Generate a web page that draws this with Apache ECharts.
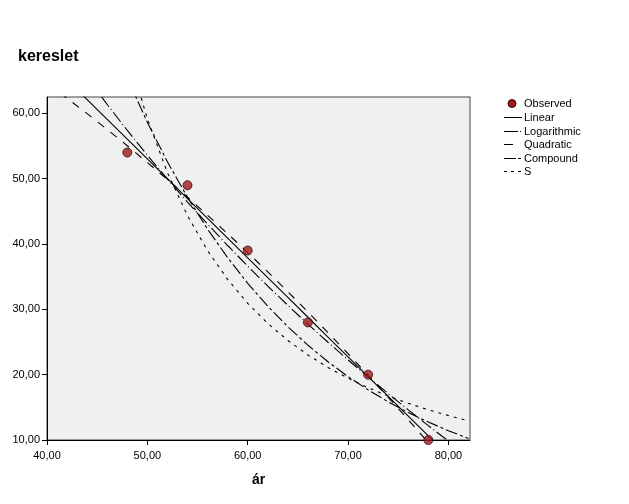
<!DOCTYPE html>
<html>
<head>
<meta charset="utf-8">
<script src="https://cdn.jsdelivr.net/npm/echarts@6/dist/echarts.min.js"></script>
<style>html,body{margin:0;padding:0;background:#fff;}#c{width:629px;height:504px;}</style>
</head>
<body>
<div id="c"></div>
<script>
var obsX = [48, 54, 60, 66, 72, 78];
var obsY = [54, 49, 39, 28, 20, 10];
var fitX = [40, 42, 44, 46, 48, 50, 52, 54, 56, 58, 60, 62, 64, 66, 68, 70, 72, 74, 76, 78, 80, 82];
var linearY = [68.16, 65.13, 62.10, 59.08, 56.05, 53.02, 49.99, 46.96, 43.93, 40.90, 37.88, 34.85, 31.82, 28.79, 25.76, 22.73, 19.70, 16.68, 13.65, 10.62, 7.59, 4.56];
var logY = [74.36, 69.82, 65.49, 61.35, 57.39, 53.59, 49.94, 46.42, 43.04, 39.77, 36.61, 33.56, 30.61, 27.74, 24.96, 22.26, 19.64, 17.09, 14.61, 12.19, 9.83, 7.53];
var quadY = [64.59, 62.30, 59.95, 57.53, 55.04, 52.48, 49.86, 47.16, 44.41, 41.58, 38.69, 35.73, 32.70, 29.60, 26.44, 23.21, 19.91, 16.54, 13.11, 9.61, 6.04, 2.40];
var compY = [101.16, 90.71, 81.34, 72.93, 65.39, 58.64, 52.58, 47.15, 42.27, 37.91, 33.99, 30.48, 27.33, 24.51, 21.97, 19.70, 17.67, 15.84, 14.20, 12.74, 11.42, 10.24];
var sY = [156.6, 124.22, 100.62, 83.01, 69.59, 59.16, 50.93, 44.34, 38.98, 34.58, 30.92, 27.84, 25.24, 23.02, 21.11, 19.45, 18.00, 16.73, 15.61, 14.62, 13.74, 12.94];
var legendNames = ['Observed', 'Linear', 'Logarithmic', 'Quadratic', 'Compound', 'S'];

function pairs(xs, ys) { return xs.map(function (x, i) { return [x, ys[i]]; }); }
function fmt(v) { return (Math.abs(v - Math.round(v / 10) * 10) < 1e-6) ? v.toFixed(2).replace('.', ',') : ''; }

var FONT = 'Liberation Sans, Arial, sans-serif';
var dashes = {
  'Linear': 'solid',
  'Logarithmic': [12, 3, 1, 3],
  'Quadratic': [8, 8],
  'Compound': [12, 3, 3, 3],
  'S': [3, 5]
};
var legendDash = {
  'Linear': null,
  'Logarithmic': [14, 2, 1, 10],
  'Quadratic': [9, 20],
  'Compound': [12, 2, 3, 10],
  'S': [3, 4]
};
var curves = { 'Linear': linearY, 'Logarithmic': logY, 'Quadratic': quadY, 'Compound': compY, 'S': sY };

var series = [{
  name: 'Observed', type: 'scatter', data: pairs(obsX, obsY), symbol: 'circle', symbolSize: 9,
  itemStyle: { color: '#a3171c', borderColor: '#2a1010', borderWidth: 1 }, z: 5
}];
['Linear', 'Logarithmic', 'Quadratic', 'Compound', 'S'].forEach(function (n) {
  series.push({
    name: n, type: 'line', data: pairs(fitX, curves[n]), showSymbol: false, clip: true,
    lineStyle: { color: '#000', width: 1.1, type: dashes[n] }, smooth: false, z: 3
  });
});

var graphics = [];
var ly = [103.5, 117.5, 131.5, 144.5, 158.5, 171.5];
graphics.push({ type: 'circle', shape: { cx: 512, cy: ly[0], r: 4 }, style: { fill: '#a3171c', stroke: '#2a1010', lineWidth: 1 } });
['Linear', 'Logarithmic', 'Quadratic', 'Compound', 'S'].forEach(function (n, i) {
  graphics.push({ type: 'line', shape: { x1: 504, y1: ly[i + 1], x2: 522, y2: ly[i + 1] },
    style: { stroke: '#000', lineWidth: 1, lineDash: legendDash[n] } });
});
legendNames.forEach(function (n, i) {
  graphics.push({ type: 'text', left: 524, top: ly[i] - 5,
    style: { text: n, fill: '#000', font: '11px ' + FONT } });
});
graphics.push({ type: 'text', left: 18, top: 49, style: { text: 'kereslet', fill: '#000', font: 'bold 16px ' + FONT } });

var chart = echarts.init(document.getElementById('c'), null, { renderer: 'canvas' });
chart.setOption({
  animation: false,
  backgroundColor: '#fff',
  grid: { left: 47, top: 97, right: 159, bottom: 64, show: true, backgroundColor: '#f0f0f0', borderColor: '#444', borderWidth: 1 },
  xAxis: {
    type: 'value', min: 40, max: 82.15, interval: 10,
    name: 'ár', nameLocation: 'middle', nameGap: 33,
    nameTextStyle: { fontFamily: FONT, fontSize: 14, fontWeight: 'bold', color: '#000' },
    axisLine: { show: true, lineStyle: { color: '#000', width: 1 } },
    axisTick: { show: true, length: 5, inside: false, lineStyle: { color: '#000' } },
    axisLabel: { formatter: fmt, margin: 10, fontFamily: FONT, fontSize: 11, color: '#000', showMaxLabel: false },
    splitLine: { show: false }
  },
  yAxis: {
    type: 'value', min: 10, max: 62.5, interval: 10,
    axisLine: { show: true, lineStyle: { color: '#000', width: 1 } },
    axisTick: { show: true, length: 5, inside: false, lineStyle: { color: '#000' } },
    axisLabel: { formatter: fmt, margin: 7, fontFamily: FONT, fontSize: 11, color: '#000', showMaxLabel: false },
    splitLine: { show: false }
  },
  series: series,
  graphic: graphics
});
</script>
</body>
</html>
